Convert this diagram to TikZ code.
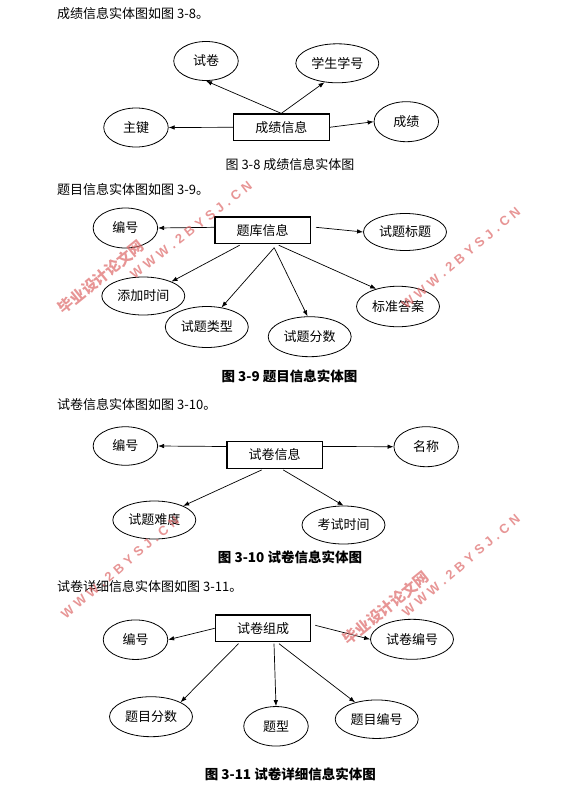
\documentclass[tikz,border=0pt]{standalone}
\usepackage{fontspec}
\setmainfont{Noto Sans CJK SC}
\newfontfamily\wmlatin{Liberation Sans}
\usetikzlibrary{shapes.geometric,arrows.meta}
\definecolor{wmred}{RGB}{222,105,105}
\newcommand\wsp{\hspace{4.2pt}}
\newcommand\wmtext{W\wsp W\wsp W\wsp .\wsp 2\wsp B\wsp Y\wsp S\wsp J\wsp .\wsp C\wsp N}
\begin{document}
\begin{tikzpicture}[x=1pt,y=-1pt,
  attr/.style={draw,ellipse,line width=0.8pt,inner sep=0pt,font=\fontsize{13}{13}\selectfont},
  attrtwo/.style={attr,minimum width=64.5pt,minimum height=39pt},
  attrfour/.style={attr,minimum width=83pt,minimum height=39pt},
  ent/.style={draw,rectangle,line width=1.1pt,inner sep=0pt,minimum width=95.5pt,minimum height=26.7pt,font=\fontsize{13}{13}\selectfont},
  arr/.style={-{Latex[length=6pt,width=4.5pt]},line width=0.7pt},
  para/.style={anchor=west,inner sep=0pt,font=\fontsize{13}{13}\selectfont},
  capn/.style={inner sep=0pt,font=\fontsize{13}{13}\selectfont},
  capb/.style={inner sep=0pt,font=\fontsize{13.5}{13.5}\selectfont\bfseries},
  wmzh/.style={text=wmred,opacity=0.7,inner sep=0pt,font=\fontsize{15}{15}\selectfont\bfseries},
  wmen/.style={text=wmred,opacity=0.7,inner sep=0pt,font=\fontsize{13}{13}\selectfont\wmlatin\bfseries},
]
\useasboundingbox[fill=white] (0,0) rectangle (566,787);

% ---- Fig 3-8
\node[para] (t1) at (57,13.5) {成绩信息实体图如图 3-8。};
\node[ent] (r1) at (281.3,127.3) {成绩信息};
\node[attrtwo] (a1) at (206,61) {试卷};
\node[attrfour] (a2) at (337.3,63.3) {学生学号};
\node[attrtwo] (a3) at (136,127.5) {主键};
\node[attrtwo,minimum height=40pt] (a4) at (406.3,121.7) {成绩};
\node[capn] (c1) at (290,164.5) {图 3-8 成绩信息实体图};
\draw[arr] (r1.north) -- (a1.south);
\draw[arr] (r1.north) -- (a2.236);
\draw[arr] (r1.west) -- (a3.east);
\draw[arr] (r1.east) -- (a4.west);

% ---- Fig 3-9
\node[para] (t2) at (57,190) {题目信息实体图如图 3-9。};
\node[ent] (r2) at (262.7,230.3) {题库信息};
\node[attrtwo,minimum height=40pt] (b1) at (125.4,228) {编号};
\node[attrfour,minimum height=37pt] (b2) at (405,232) {试题标题};
\node[attrfour,minimum height=38pt] (b3) at (143.3,296) {添加时间};
\node[attrfour,minimum height=41pt] (b4) at (206.8,327) {试题类型};
\node[attrfour,minimum height=40pt] (b5) at (309.7,336.7) {试题分数};
\node[attrfour,minimum height=40.5pt] (b6) at (398,306.5) {标准答案};
\node[capb] (c2) at (289.5,376) {图 3-9 题目信息实体图};
\draw[arr] ([yshift=3pt]r2.west) -- (b1.east);
\draw[arr] ([xshift=5pt,yshift=3pt]r2.east) -- (b2.west);
\draw[arr] ([xshift=-23pt,yshift=-1pt]r2.south) -- (b3.27);
\draw[arr] ([xshift=11.5pt,yshift=-3.5pt]r2.south) -- (b4.53);
\draw[arr] ([xshift=11.5pt,yshift=-3.5pt]r2.south) -- (b5.96);
\draw[arr] ([xshift=16pt,yshift=-1pt]r2.south) -- (b6.141);

% ---- Fig 3-10
\node[para] (t3) at (57,405) {试卷信息实体图如图 3-10。};
\node[ent] (r3) at (274.7,455) {试卷信息};
\node[attrtwo,minimum height=38.5pt] (e1) at (125.4,446) {编号};
\node[attrtwo,minimum height=40pt] (e2) at (426.2,446.7) {名称};
\node[attrfour,minimum height=38pt] (e3) at (154.3,520) {试题难度};
\node[attrfour,minimum height=38pt] (e4) at (343.5,525) {考试时间};
\node[capb] (c3) at (290,557.5) {图 3-10 试卷信息实体图};
\draw[arr] ([yshift=8.5pt]r3.west) -- (e1.east);
\draw[arr] ([yshift=8.5pt]r3.east) -- (e2.west);
\draw[arr] ([xshift=-13pt,yshift=-1pt]r3.south) -- (e3.26);
\draw[arr] ([xshift=8.5pt,yshift=-1pt]r3.south) -- (e4.north);

% ---- Fig 3-11
\node[para] (t4) at (57,587) {试卷详细信息实体图如图 3-11。};
\node[ent] (r4) at (263,628.3) {试卷组成};
\node[attrtwo,minimum height=39.5pt] (f1) at (135.5,639.7) {编号};
\node[attrfour,minimum height=40pt] (f2) at (412,639.3) {试卷编号};
\node[attrfour,minimum height=40pt] (f3) at (151,716.7) {题目分数};
\node[attrtwo,minimum height=39.5pt] (f4) at (276,726.3) {题型};
\node[attrfour,minimum height=38.5pt] (f5) at (376.7,719.2) {题目编号};
\node[capb] (c4) at (290.3,774) {图 3-11 试卷详细信息实体图};
\draw[arr] (r4.west) -- (f1.east);
\draw[arr] ([xshift=4pt,yshift=3pt]r4.east) -- (f2.west);
\draw[arr] ([xshift=-24.5pt,yshift=-1.5pt]r4.south) -- (f3.26);
\draw[arr] ([xshift=11pt,yshift=-1.5pt]r4.south) -- (f4.north);
\draw[arr] ([xshift=16pt,yshift=-1.5pt]r4.south) -- (f5.142);

% ---- watermarks
\node[wmzh,rotate=39] (w1) at (101,277) {毕业设计论文网};
\node[wmen,rotate=38] (w2) at (191,230) {\wmtext};
\node[wmen,rotate=40] (w3) at (461,258) {\wmtext};
\node[wmen,rotate=40.5] (w4) at (120,567.5) {\wmtext};
\node[wmzh,rotate=39] (w5) at (386,608) {毕业设计论文网};
\node[wmen,rotate=40.5] (w6) at (461,565.5) {\wmtext};
\end{tikzpicture}
\end{document}
